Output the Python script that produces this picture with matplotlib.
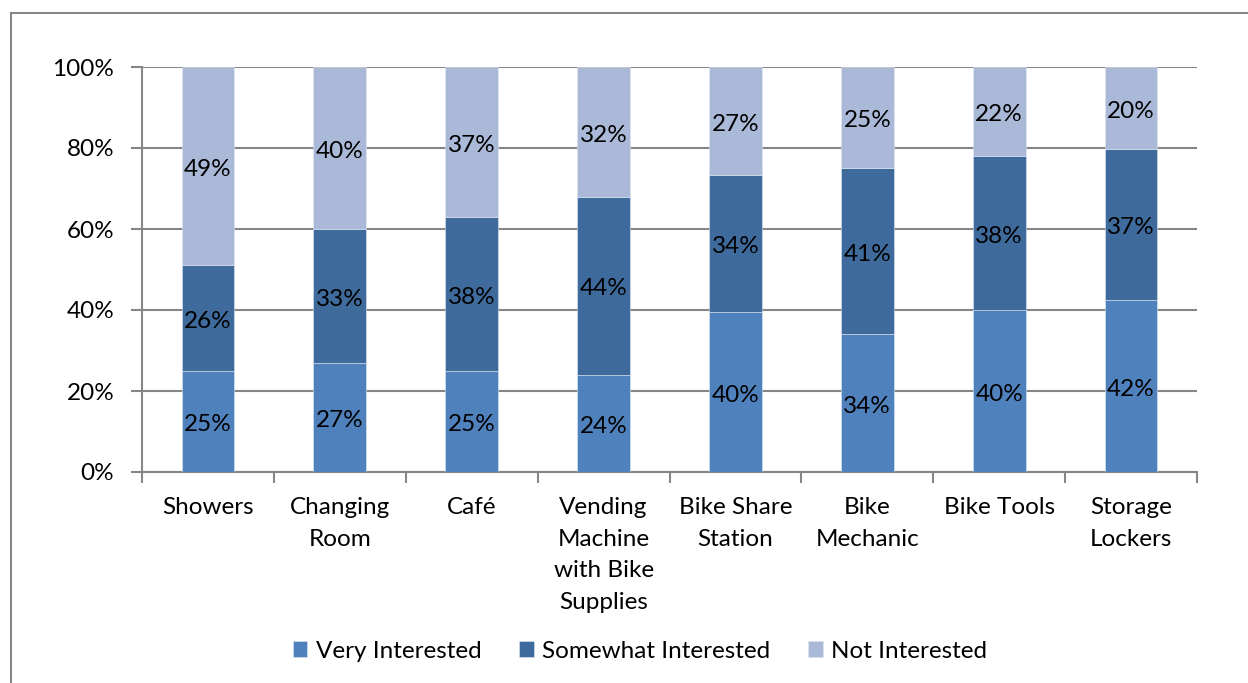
import matplotlib
matplotlib.use("Agg")
import matplotlib.pyplot as plt
from matplotlib.patches import Rectangle
import numpy as np

categories = ["Showers", "Changing\nRoom", "Café", "Vending\nMachine\nwith Bike\nSupplies",
              "Bike Share\nStation", "Bike\nMechanic", "Bike Tools", "Storage\nLockers"]
very = [25, 27, 25, 24, 40, 34, 40, 42]
somewhat = [26, 33, 38, 44, 34, 41, 38, 37]
not_int = [49, 40, 37, 32, 27, 25, 22, 20]
series_names = ["Very Interested", "Somewhat Interested", "Not Interested"]
colors = ["#4F81BD", "#3E6A9C", "#AAB9D7"]
yticks = [0, 20, 40, 60, 80, 100]

plt.rcParams["font.family"] = ["Lato", "DejaVu Sans"]
FS = 17.5

fig = plt.figure(figsize=(12.48, 6.83), dpi=100)
ax = fig.add_axes([142 / 1248, 1 - 472 / 683, (1197 - 142) / 1248, (472 - 67) / 683])

# outer chart frame
fig.patches.append(Rectangle((11 / 1248, -0.01), 1.1, 1 - 13 / 683 + 0.01,
                             transform=fig.transFigure, fill=False,
                             edgecolor="#868686", linewidth=1.5))

data = np.array([very, somewhat, not_int], dtype=float)
totals = data.sum(axis=0)
pct = data / totals * 100
x = np.arange(len(categories))
bottom = np.zeros(len(categories))
for i, name in enumerate(series_names):
    ax.bar(x, pct[i], 0.4, bottom=bottom, color=colors[i], label=name,
           edgecolor="#dfe6f0", linewidth=0.4, zorder=3)
    for xi, b, h, v in zip(x, bottom, pct[i], data[i]):
        ax.text(xi, b + h / 2 - 0.8, f"{int(v)}%", ha="center", va="center",
                fontsize=FS, color="black", zorder=4)
    bottom += pct[i]

ax.set_xlim(-0.5, len(categories) - 0.5)
ax.set_ylim(0, 100)
ax.set_yticks(yticks)
ax.set_yticklabels([f"{t}%" for t in yticks], fontsize=FS)
ax.yaxis.grid(True, color="#868686", linewidth=1.5, zorder=0)
ax.set_axisbelow(True)

ax.set_xticks(np.arange(-0.5, len(categories) + 0.5, 1))
ax.set_xticklabels([])
ax.set_xticks(x, minor=True)
ax.set_xticklabels(categories, minor=True, fontsize=FS, linespacing=1.63, va="top")
ax.tick_params(axis="x", which="minor", length=0, pad=18)
ax.tick_params(axis="x", which="major", length=8, width=1.5, color="#868686")
ax.tick_params(axis="y", length=8, width=1.5, color="#868686", pad=12)

for s in ["top", "right"]:
    ax.spines[s].set_visible(False)
for s in ["left", "bottom"]:
    ax.spines[s].set_color("#868686")
    ax.spines[s].set_linewidth(1.5)

fig.legend(loc="center", bbox_to_anchor=(640 / 1248, 1 - 651 / 683), ncol=3,
           frameon=False, fontsize=FS, handlelength=0.6, handleheight=0.6,
           handletextpad=0.35, columnspacing=1.55)

fig.savefig("out.png", dpi=100)
